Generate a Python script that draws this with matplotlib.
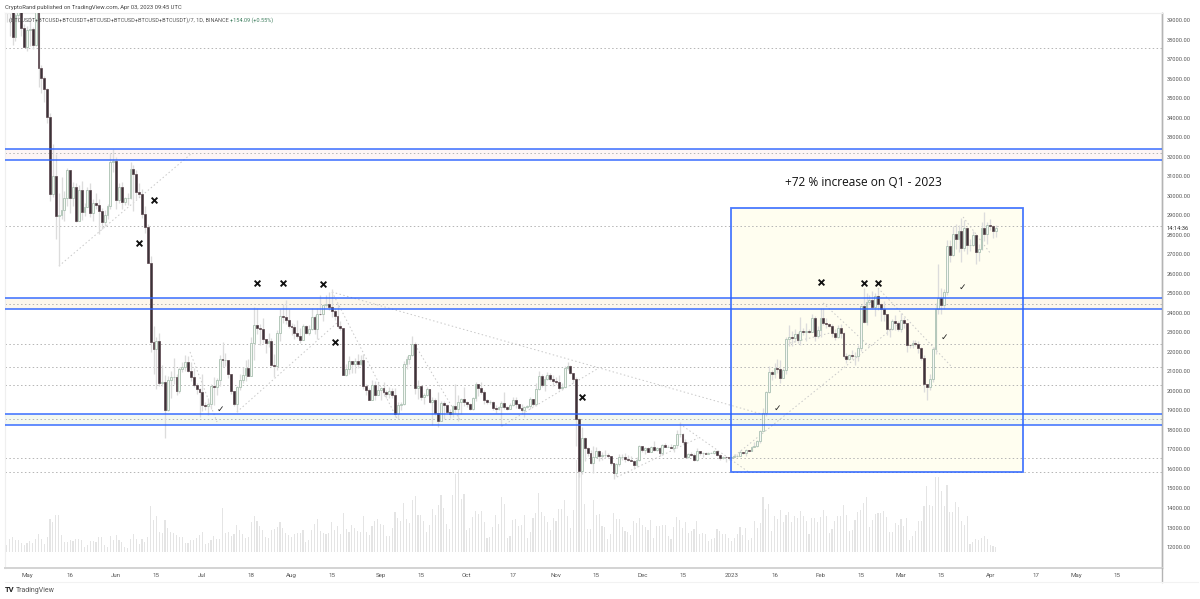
import matplotlib
matplotlib.use("Agg")
import matplotlib.pyplot as plt
from matplotlib.lines import Line2D
import pandas as pd

first_open = 39700
closes = [
 39450,40430,38120,39240,39740,38600,37630,
 38470,38520,37720,39690,36550,36010,35470,34040,30080,31010,28940,28990,29270,29860,31300,29870,30420,28700,30300,29170,29430,30280,29090,29640,29540,29200,28630,29010,29450,31720,31790,
 29800,30450,29700,29860,29900,31370,31130,30200,30110,29080,28420,26570,22490,22130,22570,20380,20450,19010,20550,20700,20720,19970,21100,21230,21500,21040,20730,20280,20100,19940,
 19270,19240,19310,20230,20190,20550,21630,21590,21590,20860,19970,19330,20210,20580,20830,21190,20780,22430,23400,23220,23150,22680,22450,22580,21310,21250,22950,23840,23770,23640,23300,
 23270,22980,22820,22620,23310,22960,23170,23810,23160,23950,23930,24400,24440,24300,24100,23850,23330,23210,20830,21140,21520,21400,21530,21370,21560,20240,20040,19550,20280,19810,20050,
 20130,19950,19830,20000,19790,18790,19290,19320,21360,21650,21830,22400,20170,20230,19700,19800,20110,19420,19540,18870,18480,19400,19290,18920,18800,19220,19080,19410,19590,19420,
 19310,19060,19620,20340,20160,19950,19530,19420,19440,19130,19060,19150,19370,19180,19070,19260,19550,19330,19120,19040,19160,19200,19570,19330,20090,20770,20290,20590,20820,20630,20490,
 20480,20150,20210,21150,21300,20920,20600,18540,15880,17590,17070,16810,16330,16620,16900,16660,16690,16700,16660,16280,15780,16230,16600,16600,16520,16460,16430,16210,16440,17170,
 16980,17090,16890,17110,16970,17090,16840,17220,17130,17130,17090,17210,17780,17810,17360,16630,16780,16740,16440,16900,16820,16830,16780,16840,16840,16920,16710,16550,16630,16600,16540,
 16620,16680,16680,16860,16830,16950,16940,17130,17190,17440,17950,18850,19930,20960,20880,21180,21130,20680,21080,22670,22780,22710,22920,22630,23060,23010,23080,23030,23740,22830,23130,
 23730,23490,23430,23330,22940,22760,23240,22960,21800,21630,21860,21780,21780,22200,24330,23520,24570,24630,24280,24840,24450,24190,23950,23190,23160,23560,23490,23150,
 23650,23470,22360,22350,22430,22410,22200,21700,20360,20190,20630,22160,24200,24750,24380,25050,27420,26970,28040,27800,28180,27310,28340,27490,27490,28000,27140,27270,28350,28030,28480,
 28460,28200,28350]
highs = [
 39900,40700,40800,39450,40300,39900,38800,
 38700,39150,38650,40000,39800,36680,36150,35500,34250,32650,32150,30150,30980,30250,31400,31300,30700,30650,30550,30770,29650,30450,30650,29830,30150,29830,29380,29250,29550,32200,32390,
 31970,30650,30700,29950,30150,31750,31550,31300,30650,30350,29450,28550,26900,23300,22750,22950,21350,20800,20780,21000,21700,20850,21230,21500,21850,21800,21500,21190,20420,20150,
 20880,19430,19650,20350,20730,20650,21830,22500,21950,21600,20850,20000,20250,20880,21200,21560,21650,22780,24280,24270,23420,23750,22650,22990,22700,21900,23100,24200,24450,24650,24200,
 23500,23450,23650,23220,23450,23350,23400,24250,23900,24230,24900,24450,24900,25050,25200,24250,24450,23600,23200,21380,21800,21530,21700,21900,21820,21880,20350,20150,20580,20500,20450,
 20200,20450,20050,20180,20150,20150,19450,19450,21550,21800,21850,22800,22480,20540,20200,19900,20190,20100,19680,19620,19950,19500,19500,19320,19050,19300,20350,19790,19640,20200,
 19470,19400,19700,20450,20360,20450,20050,19600,19550,19500,19260,19220,19500,19950,19200,19360,19680,19700,19350,19350,19250,19270,19700,19600,20400,21000,20880,20750,20980,20930,20830,
 20700,20800,20400,21300,21480,21350,20900,20700,18600,18150,17650,17150,16950,17200,17100,16980,16880,16980,16800,16680,16300,16300,16750,16790,16800,16700,16650,16480,16600,17250,
 17200,17100,17150,17200,17420,17120,17140,17300,17350,17230,17260,17240,18000,18380,17850,17530,16800,16880,16820,17060,16900,16860,16880,16870,16860,16950,16970,16780,16660,16640,16630,
 16630,16780,16770,16990,16890,17040,16970,17180,17400,17490,18000,19100,20000,21250,21050,21450,21650,21600,21180,22750,23350,23080,23170,23000,23800,23240,23500,23190,23950,23830,23300,
 24250,24250,23720,23480,23430,23160,23350,23450,23010,21950,21900,22100,21990,22330,24380,25250,25020,24900,25130,25000,25250,24480,24600,23880,23220,23690,23880,23600,
 24000,23780,23480,22420,22600,22600,22550,22270,21820,20370,20850,22270,24500,26500,25250,25200,27750,27730,28450,28530,28500,28850,28750,28400,27790,28200,28020,27500,28650,29180,28650,
 28800,28500,28500]
lows = [
 38900,38200,37700,37900,38900,38200,37600,
 37400,37650,37500,37650,35550,35280,34800,33700,29730,29950,27800,26400,28800,28700,29450,29100,29450,28650,28700,28730,28950,29450,28900,28700,29300,28020,28280,28450,28800,29300,31200,
 29300,29600,29300,29500,29500,29850,29200,29850,29950,28850,28100,26550,22000,20850,20100,20250,20250,17600,18950,19650,20350,19780,19900,20950,21000,20950,20500,20200,19850,18650,
 18970,19000,18780,19050,19300,19800,20250,21200,21300,20650,19860,19250,18900,20050,20400,20500,20750,20750,21600,22900,22350,22450,21950,22250,21250,20700,21050,22550,23500,23450,23200,
 22850,22650,22700,22450,22600,22900,22860,23120,22900,22650,23900,23600,24300,24150,23800,23650,23200,23100,20800,20750,20850,20900,20900,21150,21310,20120,19800,19550,19530,19550,19900,
 19550,19750,19650,19650,19650,18650,18550,19000,19300,21100,21400,21800,19850,19600,19550,19350,19750,19400,18230,18750,18150,18600,18580,18800,18630,18650,18800,18480,18840,19200,
 19180,19000,19000,19500,19750,19850,19320,19350,19330,19000,18850,19020,18200,19080,19000,19060,19250,19100,19050,18900,18650,19130,19080,19250,19250,20050,20200,20000,20570,20500,20250,
 20350,20050,20050,20180,21050,20850,20400,17200,15600,15750,16400,16680,16250,15800,16550,16400,16480,16550,16550,16200,15500,15650,16170,16460,16350,16420,16400,16000,16120,16400,
 16880,16790,16880,16880,16900,16900,16680,16730,17100,17100,17080,16880,17100,17660,17280,16560,16580,16650,16400,16390,16730,16590,16760,16780,16800,16790,16640,16480,16520,16340,16470,
 16500,16560,16610,16650,16750,16670,16910,16900,17100,17130,17320,17950,18700,19880,20550,20650,20900,20400,20650,20850,22300,22300,22500,22450,22350,22850,22550,22950,23020,22550,22700,
 22750,23350,23200,23250,22780,22630,22720,22700,21700,21450,21600,21650,21350,21530,22050,23500,23350,24450,24200,23850,24150,23600,23600,22850,22750,23100,23100,23050,
 23020,23200,22000,22200,22200,22320,21950,21600,19950,19550,20050,20430,21900,23950,23950,24200,24900,26620,26900,27250,27100,26600,27150,27000,27150,27420,26500,26650,27200,27700,27550,
 28250,27850,27900]
volumes = [
 22,40,44,37,36,27,21,26,32,28,39,54,39,23,44,100,91,110,110,51,31,29,37,32,38,40,37,14,21,33,33,31,45,46,20,16,48,35,50,35,30,14,12,39,54,39,25,38,31,46,137,97,109,61,57,97,72,61,57,51,44,44,28,28,35,36,41,51,59,25,26,36,49,40,40,131,57,61,49,53,82,67,55,42,46,91,107,94,77,65,46,41,
 66,68,76,90,73,56,52,45,54,56,56,66,31,35,67,83,98,64,57,55,56,89,65,78,53,116,70,59,80,73,63,59,107,61,50,77,94,100,83,82,47,47,71,120,101,92,146,98,88,156,167,112,110,93,61,80,130,110,142,170,133,84,69,170,234,246,158,173,65,71,106,122,113,124,89,42,45,76,111,85,166,145,43,47,95,98,77,80,112,43,59,101,117,176,121,109,89,
 65,102,93,128,130,155,107,73,127,274,283,248,143,68,70,155,112,113,78,76,40,55,116,98,98,74,63,60,50,93,86,102,81,75,66,95,43,78,78,80,81,47,40,76,104,95,73,91,58,63,68,92,55,58,55,34,40,42,68,63,55,55,41,33,43,53,76,50,71,35,43,92,73,88,165,128,143,63,108,100,
 127,91,112,120,90,107,102,122,107,94,55,103,103,91,104,127,109,56,70,94,108,107,142,112,64,65,97,121,125,147,165,75,97,115,118,118,123,106,60,61,87,82,99,77,102,37,48,63,92,94,137,199,142,137,225,225,182,139,202,120,120,151,134,92,80,109,23,30,39,36,42,47,39,21,18,15]

first_date = "2022-04-24"
origin = pd.Timestamp("2022-05-01")
tick_dates = ["2022-05-01","2022-05-16","2022-06-01","2022-06-15","2022-07-01","2022-07-18","2022-08-01","2022-08-15",
              "2022-09-01","2022-09-15","2022-10-01","2022-10-17","2022-11-01","2022-11-15","2022-12-01","2022-12-15",
              "2023-01-01","2023-01-16","2023-02-01","2023-02-15","2023-03-01","2023-03-15","2023-04-01","2023-04-17",
              "2023-05-01","2023-05-15"]
tick_labels = ["May","16","Jun","15","Jul","18","Aug","15","Sep","15","Oct","17","Nov","15","Dec","15",
               "2023","16","Feb","15","Mar","15","Apr","17","May","15"]
price_ticks = list(range(12000, 40000, 1000))

zone_edges = [(31828, 32391, "#fdf2f2"), (24195, 24758, "#fdf5e6"), (18252, 18816, "#f1f8ee")]
dotted_levels = [37566, 32186, 28447, 24451, 22402, 21223, 20301, 18559, 16561, 15844]
trend_lines = [
 (11.1,26397,57.4,32186),(73,18918,107.8,23477),(106.1,25065,256.7,18764),(56.7,21992,66.1,18405),
 (106.1,25065,129,18508),(135,22350,150.6,18508),(165.2,18200,198.3,21120),(205.2,15588,233.4,17586),
 (227.1,18303,251.5,15793),(245.2,16561,304.7,23631),(276.9,24502,293.2,22248),(296,25270,321.7,21223),
 (325.6,28908,335,27064),(265.4,22453,279.3,22965)]
box_days = (245, 346.4)
box_prices = (15844, 29369)
cross_days = [80,89,103,44.2,39,107.1,193,276.2,291.1,296]
cross_prices = [25527,25527,25475,29753,27576,22504,19686,25578,25527,25527]
check_days = [67.1,260.9,319,325.2]
check_prices = [19071,19123,22760,25322]
note_day, note_price = 290.8, 30700

FIG_W, FIG_H = 1200, 599
L, R, T, B = 5, 1162, 13, 568
fig = plt.figure(figsize=(FIG_W/100, FIG_H/100), dpi=100, facecolor="white")
vax = fig.add_axes([L/FIG_W, 1-B/FIG_H, (R-L)/FIG_W, (B-T)/FIG_H])
ax = vax.twinx()
ax.set_zorder(vax.get_zorder()+1)
ax.patch.set_visible(False)

days = [(pd.Timestamp(first_date)-origin).days + i for i in range(len(closes))]
opens = [first_open] + closes[:-1]

BLUE = "#2962ff"
ax.add_patch(plt.Rectangle((box_days[0], box_prices[0]), box_days[1]-box_days[0], box_prices[1]-box_prices[0],
             facecolor="#fffef0", edgecolor="none", zorder=0.5))
for lo, hi, col in zone_edges:
    ax.axhspan(lo, hi, facecolor=col, alpha=0.75, edgecolor="none", zorder=0.7)
for lv in dotted_levels:
    ax.axhline(lv, color="#b4b4b4", lw=0.7, ls=(0, (1.5, 2.5)), zorder=1)
for x0, y0, x1, y1 in trend_lines:
    ax.plot([x0, x1], [y0, y1], color="#c8c8c8", lw=0.7, ls=(0, (1.5, 2.5)), zorder=1.1)

# volume
vax.bar(days, volumes, width=0.42, color="#e4e4e4", linewidth=0, zorder=1)

# candles
ax.vlines(days, lows, highs, color="#dcdcdc", lw=0.95, zorder=2)
up = [i for i in range(len(days)) if closes[i] >= opens[i]]
dn = [i for i in range(len(days)) if closes[i] < opens[i]]
ax.bar([days[i] for i in up], [closes[i]-opens[i] for i in up], bottom=[opens[i] for i in up], width=0.66,
       facecolor="#f5f8f4", edgecolor="#b0c5b7", linewidth=0.65, zorder=3)
ax.bar([days[i] for i in dn], [opens[i]-closes[i] for i in dn], bottom=[closes[i] for i in dn], width=0.62,
       facecolor="#3b3338", edgecolor="#5a444c", linewidth=0.5, zorder=3)

# blue lines
for lo, hi, _ in zone_edges:
    for v in (lo, hi):
        ax.axhline(v, color=BLUE, lw=1.2, alpha=0.85, zorder=4)
ax.add_patch(plt.Rectangle((box_days[0], box_prices[0]), box_days[1]-box_days[0], box_prices[1]-box_prices[0],
             facecolor="none", edgecolor=BLUE, lw=1.3, alpha=0.85, zorder=4))

ax.scatter(cross_days, cross_prices, marker="x", s=17, c="#111111", linewidths=1.35, zorder=5)
for d, p in zip(check_days, check_prices):
    ax.text(d, p, "\u2713", fontsize=6.5, family="DejaVu Sans", color="#222222", ha="center", va="center", zorder=5, fontweight="bold")

ax.text(note_day, note_price, "+72 % increase on Q1 - 2023", family="Open Sans", fontsize=8.6, color="#111111",
        ha="center", va="center", zorder=6)

# axes
x0_day = (L-27)/2.875
x1_day = (R-27)/2.875
price_at = lambda y: 39000-(y-20)*51.23
ax.set_xlim(x0_day, x1_day)
vax.set_xlim(x0_day, x1_day)
ax.set_ylim(price_at(B), price_at(T))
vax.set_ylim(-48, 1614)
vax.set_yticks([])
vax.set_xticks([(pd.Timestamp(t)-origin).days for t in tick_dates])
vax.set_xticklabels(tick_labels, family="Roboto", fontsize=4.4, color="#555555")
vax.tick_params(axis="x", length=0, pad=3.5)
ax.set_yticks(price_ticks)
ax.set_yticklabels([f"{p}.00" for p in price_ticks], family="Roboto", fontsize=4.1, color="#555555")
ax.tick_params(axis="y", length=0, pad=3.5)
for a in (ax, vax):
    for name, sp in a.spines.items():
        if name == "right":
            sp.set_color("#b4b4b4"); sp.set_linewidth(1.0)
        elif name == "bottom":
            sp.set_color("#d4d4d4"); sp.set_linewidth(1.4)
        else:
            sp.set_color("#efefef"); sp.set_linewidth(0.8)

fig.add_artist(Line2D([R/FIG_W, R/FIG_W], [1-B/FIG_H, 1-582/FIG_H], color="#b4b4b4", lw=1.0))
fig.add_artist(Line2D([L/FIG_W, R/FIG_W+0.03], [1-582/FIG_H, 1-582/FIG_H], color="#f2f2f2", lw=0.8))

fig.text(5/FIG_W, 1-7/FIG_H, "CryptoRand published on TradingView.com, Apr 03, 2023 09:45 UTC",
         family="Roboto", fontsize=4.23, color="#444444", ha="left", va="center")
fig.text(9/FIG_W, 1-20.5/FIG_H, "(BTCUSDT+BTCUSD+BTCUSDT+BTCUSD+BTCUSD+BTCUSD+BTCUSDT)/7, 1D, BINANCE",
         family="Roboto", fontsize=3.98, color="#555555", ha="left", va="center", zorder=10)
fig.text(230.5/FIG_W, 1-20.5/FIG_H, "+154.09 (+0.55%)", family="Roboto", fontsize=4.0, color="#3f7f5f",
         ha="left", va="center", zorder=10)
fig.text(1167/FIG_W, 1-228.5/FIG_H, "14:14:36", family="Roboto", fontsize=4.2, color="#333333", ha="left", va="center",
         bbox=dict(facecolor="white", edgecolor="none", pad=0.3), zorder=10)
fig.text(5/FIG_W, 1-590/FIG_H, "TV", family="Roboto", fontsize=5.5, fontweight="bold", color="#222222", ha="left", va="center")
fig.text(16/FIG_W, 1-590/FIG_H, "TradingView", family="Roboto", fontsize=5.0, color="#555555", ha="left", va="center")

assert len(closes) == len(highs) == len(lows) == len(volumes), (len(closes), len(highs), len(lows), len(volumes))
fig.savefig("out.png", dpi=100, facecolor="white")
